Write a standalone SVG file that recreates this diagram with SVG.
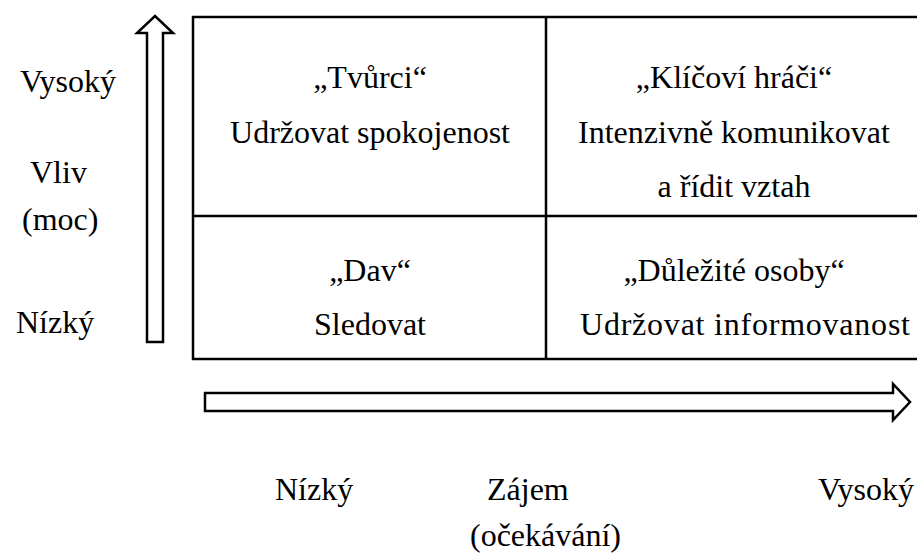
<svg xmlns="http://www.w3.org/2000/svg" width="917" height="553" viewBox="0 0 917 553">
<style>
text{font-family:"Liberation Serif",Tinos,"DejaVu Serif",serif;font-size:32px;fill:#000}
.c{text-anchor:middle}
.ln{stroke:#000;stroke-width:2.5;fill:none}
.ar{stroke:#000;stroke-width:2.5;fill:#fff;stroke-linejoin:miter}
</style>
<rect width="917" height="553" fill="#fff"/>
<g id="axes">
<path class="ar" d="M147,342 L147,33 L137,33 L155,16 L173,33 L163,33 L163,342 Z"/>
<path class="ar" d="M205,393 L893,393 L893,384 L910,402 L893,420 L893,411 L205,411 Z"/>
</g>
<g id="grid">
<path class="ln" d="M920,17 L193,17 L193,359 L920,359 M193,216 L920,216 M546,17 L546,359"/>
</g>
<g id="labels-y">
<text x="20" y="92">Vysoký</text>
<text x="30" y="183">Vliv</text>
<text x="22" y="230">(moc)</text>
<text x="16" y="333">Nízký</text>
</g>
<g id="labels-x">
<text x="275" y="500">Nízký</text>
<text x="487" y="500">Zájem</text>
<text x="818" y="500">Vysoký</text>
<text x="470" y="546">(očekávání)</text>
</g>
<g id="q1">
<text class="c" x="370" y="88">„Tvůrci“</text>
<text class="c" x="370" y="143">Udržovat spokojenost</text>
</g>
<g id="q2">
<text class="c" x="734" y="88">„Klíčoví hráči“</text>
<text class="c" x="734" y="143">Intenzivně komunikovat</text>
<text class="c" x="734" y="197">a řídit vztah</text>
</g>
<g id="q3">
<text class="c" x="370" y="281">„Dav“</text>
<text class="c" x="370" y="335">Sledovat</text>
</g>
<g id="q4">
<text class="c" x="734" y="281">„Důležité osoby“</text>
<text x="580" y="335" textLength="330" lengthAdjust="spacing">Udržovat informovanost</text>
</g>
</svg>
